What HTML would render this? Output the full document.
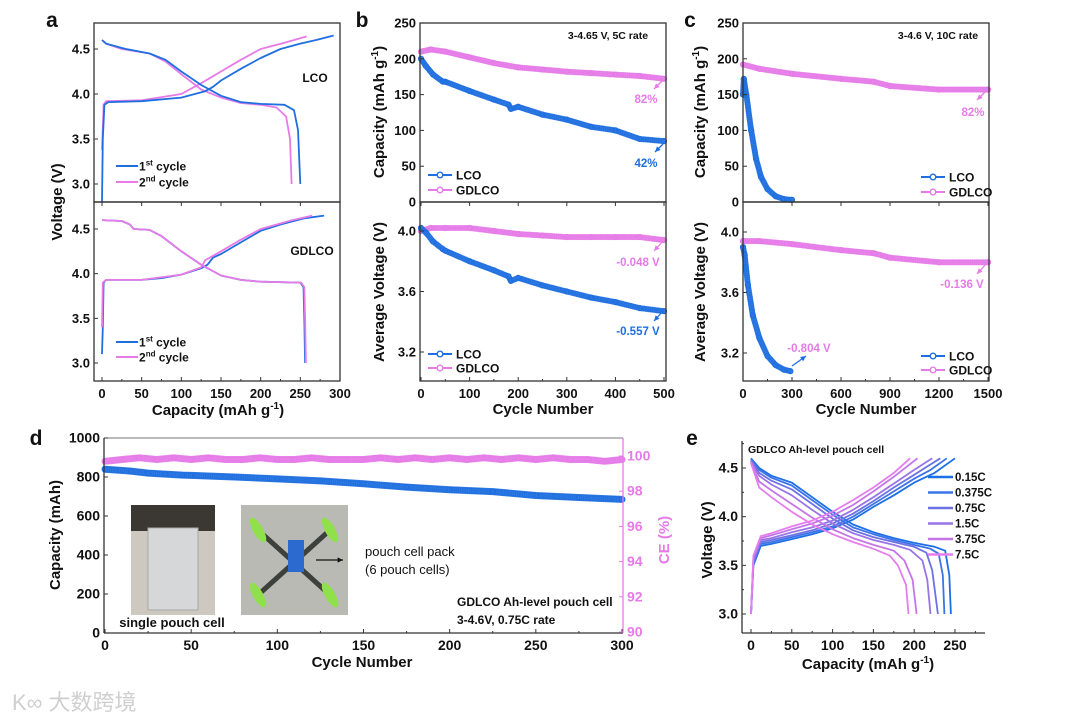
<!DOCTYPE html>
<html><head><meta charset="utf-8"><style>
html,body{margin:0;padding:0;background:#fff}
svg{display:block;font-family:"Liberation Sans",Arial,sans-serif;font-weight:bold}
</style></head><body>
<svg id="fig" width="1080" height="722" viewBox="0 0 1080 722" xmlns="http://www.w3.org/2000/svg"></svg>
<script>
// ---------- DATA ----------
const aLco1Charge=[[0,2.8],[1,3.5],[3,3.88],[8,3.91],[50,3.92],[100,3.96],[130,4.03],[140,4.08],[150,4.15],[175,4.28],[200,4.40],[225,4.50],[250,4.56],[270,4.60],[292,4.65]];
const aLco1Dis=[[0,4.6],[5,4.56],[30,4.5],[60,4.45],[80,4.38],[100,4.25],[125,4.1],[150,3.98],[175,3.91],[200,3.89],[230,3.88],[242,3.82],[247,3.6],[250,3.0]];
const aLco2Charge=[[0,3.38],[2,3.88],[5,3.92],[50,3.93],[100,4.0],[125,4.12],[150,4.25],[175,4.38],[200,4.50],[230,4.57],[258,4.64]];
const aLco2Dis=[[0,4.6],[5,4.56],[25,4.5],[60,4.45],[80,4.36],[100,4.22],[125,4.05],[150,3.96],[175,3.9],[200,3.88],[220,3.85],[232,3.75],[237,3.5],[239,3.0]];
const aG1Charge=[[0,3.1],[1,3.4],[2,3.9],[5,3.93],[50,3.93],[75,3.95],[100,3.99],[125,4.06],[133,4.1],[140,4.18],[150,4.22],[175,4.35],[200,4.48],[225,4.55],[255,4.62],[280,4.65]];
const aG1Dis=[[0,4.6],[25,4.59],[35,4.55],[40,4.5],[60,4.49],[75,4.42],[100,4.25],[125,4.1],[150,3.98],[175,3.93],[200,3.91],[250,3.9],[254,3.85],[255,3.5],[256,3.0]];
const aG2Charge=[[0,3.4],[1,3.9],[5,3.93],[50,3.93],[100,3.99],[125,4.07],[130,4.15],[150,4.25],[175,4.38],[200,4.5],[240,4.6],[265,4.65]];
const aG2Dis=[[0,4.6],[25,4.59],[35,4.55],[40,4.5],[60,4.49],[75,4.42],[100,4.25],[125,4.1],[150,3.98],[175,3.93],[200,3.91],[251,3.9],[255,3.85],[256,3.5],[257,3.0]];
const bCycles=[0,10,25,45,50,100,150,180,185,200,250,300,350,400,450,500];
const bLcoCap=[200,190,178,168,168,155,143,136,130,133,122,115,105,100,88,85];
const bGCycles=[0,20,50,100,150,200,250,300,350,400,450,500];
const bGCap=[210,213,210,202,194,188,185,182,180,178,176,172];
const bLcoV=[4.02,3.99,3.93,3.88,3.87,3.80,3.74,3.70,3.67,3.69,3.64,3.60,3.56,3.53,3.49,3.47];
const bGV=[4.0,4.02,4.02,4.02,4.0,3.98,3.97,3.96,3.96,3.96,3.96,3.94];
const cLcoCycles=[0,5,20,50,80,110,150,200,250,300];
const cLcoCap=[150,172,150,100,60,35,18,8,4,3];
const cLcoVCycles=[0,10,30,60,100,150,200,250,290];
const cLcoV=[3.9,3.85,3.65,3.45,3.30,3.18,3.12,3.09,3.08];
const cGCycles=[0,100,300,600,800,900,1200,1500];
const cGCap=[192,186,179,172,168,162,157,157];
const cGV=[3.94,3.94,3.92,3.88,3.86,3.83,3.80,3.80];
const dCycles=[0,15,25,35,45,50,75,100,125,150,175,200,225,250,275,300];
const dCap=[840,830,820,815,810,808,800,790,780,765,748,735,725,705,695,685];
const dCeCycles=[0,10,20,30,40,50,60,70,80,90,100,110,120,130,140,150,160,170,180,190,200,210,220,230,240,250,260,270,280,290,300];
const dCe=[99.7,99.8,99.9,99.8,99.9,99.8,99.9,99.8,99.8,99.9,99.8,99.8,99.9,99.8,99.8,99.8,99.9,99.8,99.9,99.8,99.9,99.8,99.9,99.8,99.9,99.8,99.9,99.8,99.8,99.7,99.8];
const eRates=["0.15C","0.375C","0.75C","1.5C","3.75C","7.5C"];
const eCharge=[
 [[0,3.0],[3,3.5],[12,3.7],[25,3.72],[50,3.77],[75,3.82],[100,3.88],[125,3.97],[150,4.1],[175,4.22],[200,4.35],[225,4.45],[250,4.6]],
 [[0,3.0],[3,3.52],[12,3.72],[25,3.74],[50,3.79],[75,3.84],[100,3.9],[125,4.0],[150,4.13],[175,4.26],[200,4.39],[220,4.48],[240,4.6]],
 [[0,3.0],[3,3.54],[12,3.74],[25,3.76],[50,3.81],[75,3.86],[100,3.93],[125,4.03],[150,4.16],[175,4.3],[200,4.43],[215,4.51],[232,4.6]],
 [[0,3.0],[3,3.56],[12,3.76],[25,3.78],[50,3.84],[75,3.89],[100,3.96],[125,4.07],[150,4.2],[175,4.34],[200,4.48],[222,4.6]],
 [[0,3.0],[3,3.58],[12,3.78],[25,3.81],[50,3.87],[75,3.93],[100,4.01],[125,4.12],[150,4.26],[175,4.41],[204,4.6]],
 [[0,3.0],[3,3.6],[12,3.8],[25,3.83],[50,3.9],[75,3.96],[100,4.05],[125,4.17],[150,4.3],[175,4.45],[195,4.6]]];
const eDis=[
 [[0,4.6],[10,4.5],[25,4.42],[50,4.35],[75,4.2],[100,4.05],[125,3.92],[150,3.84],[175,3.78],[200,3.73],[225,3.69],[238,3.65],[243,3.4],[245,3.0]],
 [[0,4.59],[10,4.48],[25,4.4],[50,4.32],[75,4.17],[100,4.02],[125,3.89],[150,3.82],[175,3.76],[200,3.71],[220,3.67],[230,3.62],[235,3.4],[237,3.0]],
 [[0,4.58],[10,4.45],[25,4.37],[50,4.28],[75,4.13],[100,3.98],[125,3.86],[150,3.79],[175,3.74],[200,3.69],[215,3.63],[222,3.45],[229,3.0]],
 [[0,4.57],[10,4.42],[25,4.33],[50,4.22],[75,4.07],[100,3.93],[125,3.83],[150,3.76],[175,3.71],[195,3.66],[210,3.55],[216,3.35],[220,3.0]],
 [[0,4.56],[10,4.36],[25,4.27],[50,4.13],[75,3.99],[100,3.87],[125,3.78],[150,3.71],[175,3.65],[188,3.55],[198,3.35],[203,3.0]],
 [[0,4.55],[10,4.3],[25,4.2],[50,4.05],[75,3.92],[100,3.82],[125,3.74],[150,3.67],[170,3.6],[180,3.5],[190,3.3],[193,3.0]]];
const eColors=["#1d6fe6","#3d73e8","#6c72e4","#9a74e6","#c675e8","#e57ded"];

// ---------- HELPERS ----------
const NS="http://www.w3.org/2000/svg";
const svg=document.getElementById('fig');
function el(tag,attrs,parent,text){const e=document.createElementNS(NS,tag);for(const k in attrs)e.setAttribute(k,attrs[k]);if(text!==undefined)e.textContent=text;(parent||svg).appendChild(e);return e;}
function scale(d0,d1,r0,r1){return v=>r0+(v-d0)*(r1-r0)/(d1-d0);}
const BLUE="#1f6fe0",PINK="#e67be8";
function txt(x,y,s,opt,name){const t=el('text',Object.assign({x:x,y:y,'font-size':13,fill:'#111','text-anchor':'middle'},opt||{}),svg,s);
 
 return t;}
function frame(x0,y0,x1,y1,name){const r=el('rect',{x:x0,y:y0,width:x1-x0,height:y1-y0,fill:'none',stroke:'#333','stroke-width':1.3});
 
 }
function xTicks(sx,ticks,y,minor,labels,name,fs){ticks.forEach((t,i)=>{el('line',{x1:sx(t),x2:sx(t),y1:y,y2:y-4,stroke:'#333'});if(labels)txt(sx(t),y+17,String(labels[i]),{'font-size':fs||13},name);});
 (minor||[]).forEach(t=>el('line',{x1:sx(t),x2:sx(t),y1:y,y2:y-2,stroke:'#333'}));}
function yTicks(sy,ticks,x,labels,name,color,right,fs){ticks.forEach((t,i)=>{el('line',{x1:x,x2:right?x-4:x+4,y1:sy(t),y2:sy(t),stroke:color||'#333'});if(labels)txt(right?x+4:x-4,sy(t)+4.5,labels[i],{'text-anchor':right?'start':'end',fill:color||'#111','font-size':fs||13},name);});}
function line(pts,sx,sy,color,w,name){const p=el('polyline',{points:pts.map(q=>sx(q[0]).toFixed(1)+','+sy(q[1]).toFixed(1)).join(' '),fill:'none',stroke:color,'stroke-width':w||1.6,'stroke-linejoin':'round'});
 
 return p;}
function zip(xs,ys){return xs.map((x,i)=>[x,ys[i]]);}
function markSeries(xs,ys,sx,sy,color,name,w){const g=el('g',{});
 
 
 const pts=zip(xs,ys);
 const pl=el('polyline',{points:pts.map(q=>sx(q[0]).toFixed(1)+','+sy(q[1]).toFixed(1)).join(' '),fill:'none',stroke:color,'stroke-width':w||5,'stroke-linejoin':'round','stroke-linecap':'round',opacity:0.9},g);
 // dense marker glyphs along the drawn line (visual style only)
 const L=pl.getTotalLength();
 for(let s=0;s<=L;s+=2.2){const p=pl.getPointAtLength(s);
  el('circle',{cx:p.x.toFixed(1),cy:p.y.toFixed(1),r:2.6,fill:'none',stroke:color,'stroke-width':0.9,opacity:0.8},g);}
 pts.forEach(q=>{const c=el('circle',{cx:sx(q[0]),cy:sy(q[1]),r:2.6,fill:'none',stroke:color,'stroke-width':1},g);
  
  });
 return g;}
function legendLine(x,y,color,label,marker,name){el('line',{x1:x,x2:x+24,y1:y,y2:y,stroke:color,'stroke-width':2});
 if(marker)el('circle',{cx:x+12,cy:y,r:2.8,fill:'#fff',stroke:color,'stroke-width':1.4});
 return txt(x+28,y+4.5,'',{'text-anchor':'start','font-size':12},name);}
function rotTitle(x,y,s,name,color){const t=el('text',{x:0,y:0,transform:`translate(${x},${y}) rotate(-90)`,'font-size':15,'text-anchor':'middle',fill:color||'#111'},svg,s);
 
 return t;}
function arrow(x1,y1,x2,y2,color){el('line',{x1:x1,y1:y1,x2:x2,y2:y2,stroke:color,'stroke-width':1.3});
 const a=Math.atan2(y2-y1,x2-x1),L=6;
 el('polygon',{points:`${x2},${y2} ${x2-L*Math.cos(a-0.45)},${y2-L*Math.sin(a-0.45)} ${x2-L*Math.cos(a+0.45)},${y2-L*Math.sin(a+0.45)}`,fill:color});}

[['a',52,27],['b',362,27],['c',690,27],['d',36,445],['e',692,445]].forEach(p=>txt(p[1],p[2],p[0],{'font-size':21},'panel-label-'+p[0]));

// ---------- PANEL A ----------
{const X0=94,X1=340,T=23,M=202,B=381;
 const sx=scale(0,300,102,340);
 const syU=scale(3.0,4.5,184,49), syL=scale(3.0,4.5,363,229);
 const cl=el('clipPath',{id:'clipA1'});el('rect',{x:X0,y:T,width:X1-X0,height:M-T},cl);
 const cl2=el('clipPath',{id:'clipA2'});el('rect',{x:X0,y:M,width:X1-X0,height:B-M},cl2);
 const gU=el('g',{'clip-path':'url(#clipA1)'}); const gL=el('g',{'clip-path':'url(#clipA2)'});
 [[aLco2Charge,PINK,'a-lco-2nd-charge'],[aLco2Dis,PINK,'a-lco-2nd-discharge'],[aLco1Charge,BLUE,'a-lco-1st-charge'],[aLco1Dis,BLUE,'a-lco-1st-discharge']].forEach(s=>gU.appendChild(line(s[0],sx,syU,s[1],1.8,s[2])));
 [[aG1Charge,BLUE,'a-gdlco-1st-charge'],[aG1Dis,BLUE,'a-gdlco-1st-discharge'],[aG2Charge,PINK,'a-gdlco-2nd-charge'],[aG2Dis,PINK,'a-gdlco-2nd-discharge']].forEach(s=>gL.appendChild(line(s[0],sx,syL,s[1],1.8,s[2])));
 frame(X0,T,X1,M,'panel-a-lco-frame');frame(X0,M,X1,B,'panel-a-gdlco-frame');
 xTicks(sx,[0,50,100,150,200,250,300],B,[25,75,125,175,225,275],[0,50,100,150,200,250,300],'a-x-tick');
 [0,50,100,150,200,250,300].forEach(t=>el('line',{x1:sx(t),x2:sx(t),y1:M,y2:M+4,stroke:'#333'}));
 yTicks(syU,[3.0,3.5,4.0,4.5],X0,['3.0','3.5','4.0','4.5'],'a-y-tick');
 yTicks(syL,[3.0,3.5,4.0,4.5],X0,['3.0','3.5','4.0','4.5'],'a-y-tick');
 txt(315,82,'LCO',{'font-size':12},'a-lco-label');txt(312,255,'GDLCO',{'font-size':12},'a-gdlco-label');
 [[166,BLUE,'st','a-legend-1st'],[182,PINK,'nd','a-legend-2nd']].forEach((l,i)=>{el('line',{x1:116,x2:138,y1:l[0],y2:l[0],stroke:l[1],'stroke-width':2});
  const t=txt(139,l[0]+4.5,'',{'text-anchor':'start','font-size':12},l[3]);t.innerHTML=(i+1)+'<tspan font-size="8" dy="-5">'+l[2]+'</tspan><tspan dy="5"> cycle</tspan>';});
 [[342,BLUE,'st','a-legend-1st-lower'],[357,PINK,'nd','a-legend-2nd-lower']].forEach((l,i)=>{el('line',{x1:116,x2:138,y1:l[0],y2:l[0],stroke:l[1],'stroke-width':2});
  const t=txt(139,l[0]+4.5,'',{'text-anchor':'start','font-size':12},l[3]);t.innerHTML=(i+1)+'<tspan font-size="8" dy="-5">'+l[2]+'</tspan><tspan dy="5"> cycle</tspan>';});
 rotTitle(62,202,'Voltage (V)','a-y-title');
 const t=txt(218,415,'',{'font-size':15},'a-x-title');t.innerHTML='Capacity (mAh g<tspan font-size="10" dy="-6">-1</tspan><tspan dy="6">)</tspan>';
}

// ---------- PANEL B ----------
{const X0=420,X1=666,T=23,M=202,B=381;
 const sx=scale(0,500,421,664);
 const syU=scale(0,250,202,23), syL=scale(3.2,4.0,352,231);
 markSeries(bGCycles,bGCap,sx,syU,PINK,'b-gdlco-capacity');
 markSeries(bCycles,bLcoCap,sx,syU,BLUE,'b-lco-capacity');
 markSeries(bGCycles,bGV,sx,syL,PINK,'b-gdlco-voltage');
 markSeries(bCycles,bLcoV,sx,syL,BLUE,'b-lco-voltage');
 frame(X0,T,X1,M,'panel-b-upper-frame');frame(X0,M,X1,B,'panel-b-lower-frame');
 xTicks(sx,[0,100,200,300,400,500],B,[50,150,250,350,450],[0,100,200,300,400,500],'b-x-tick');
 [0,100,200,300,400,500].forEach(t=>el('line',{x1:sx(t),x2:sx(t),y1:M,y2:M+4,stroke:'#333'}));
 yTicks(syU,[0,50,100,150,200,250],X0,['0','50','100','150','200','250'],'b-y-tick');
 yTicks(syL,[3.2,3.6,4.0],X0,['3.2','3.6','4.0'],'b-y-tick');
 txt(608,39,'3-4.65 V, 5C rate',{'font-size':10.5},'b-condition');
 arrow(663,80,654,89,PINK);txt(646,103,'82%',{'font-size':11.5,fill:PINK},'b-gdlco-retention');
 arrow(663,144,655,152,BLUE);txt(646,167,'42%',{'font-size':11.5,fill:BLUE},'b-lco-retention');
 arrow(663,241,654,251,PINK);txt(638,266,'-0.048 V',{'font-size':11.5,fill:PINK},'b-gdlco-voltage-drop');
 arrow(663,311,654,321,BLUE);txt(638,335,'-0.557 V',{'font-size':11.5,fill:BLUE},'b-lco-voltage-drop');
 [[175,BLUE,'LCO'],[190,PINK,'GDLCO']].forEach(l=>{legendLine(428,l[0],l[1],'',true,'b-legend-upper').textContent=l[2];});
 [[354,BLUE,'LCO'],[368,PINK,'GDLCO']].forEach(l=>{legendLine(428,l[0],l[1],'',true,'b-legend-lower').textContent=l[2];});
 const t=rotTitle(384,112,'','b-y-title-capacity');t.innerHTML='Capacity (mAh g<tspan font-size="10" dy="-6">-1</tspan><tspan dy="6">)</tspan>';
 rotTitle(384,292,'Average Voltage (V)','b-y-title-voltage');
 txt(543,414,'Cycle Number',{'font-size':15},'b-x-title');
}

// ---------- PANEL C ----------
{const X0=743,X1=989,T=23,M=202,B=381;
 const sx=scale(0,1500,743,988);
 const syU=scale(0,250,202,23), syL=scale(3.2,4.0,353,232);
 markSeries(cGCycles,cGCap,sx,syU,PINK,'c-gdlco-capacity');
 markSeries(cLcoCycles,cLcoCap,sx,syU,BLUE,'c-lco-capacity');
 markSeries(cGCycles,cGV,sx,syL,PINK,'c-gdlco-voltage');
 markSeries(cLcoVCycles,cLcoV,sx,syL,BLUE,'c-lco-voltage');
 frame(X0,T,X1,M,'panel-c-upper-frame');frame(X0,M,X1,B,'panel-c-lower-frame');
 xTicks(sx,[0,300,600,900,1200,1500],B,[150,450,750,1050,1350],[0,300,600,900,1200,1500],'c-x-tick');
 [0,300,600,900,1200,1500].forEach(t=>el('line',{x1:sx(t),x2:sx(t),y1:M,y2:M+4,stroke:'#333'}));
 yTicks(syU,[0,50,100,150,200,250],X0,['0','50','100','150','200','250'],'c-y-tick');
 yTicks(syL,[3.2,3.6,4.0],X0,['3.2','3.6','4.0'],'c-y-tick');
 txt(938,39,'3-4.6 V, 10C rate',{'font-size':10.5},'c-condition');
 arrow(986,91,977,100,PINK);txt(973,116,'82%',{'font-size':11.5,fill:PINK},'c-gdlco-retention');
 arrow(986,264,977,274,PINK);txt(962,288,'-0.136 V',{'font-size':11.5,fill:PINK},'c-gdlco-voltage-drop');
 arrow(792,366,806,356,BLUE);txt(809,352,'-0.804 V',{'font-size':11.5,fill:PINK},'c-lco-voltage-drop');
 [[177,BLUE,'LCO'],[192,PINK,'GDLCO']].forEach(l=>{legendLine(921,l[0],l[1],'',true,'c-legend-upper').textContent=l[2];});
 [[356,BLUE,'LCO'],[370,PINK,'GDLCO']].forEach(l=>{legendLine(921,l[0],l[1],'',true,'c-legend-lower').textContent=l[2];});
 const t=rotTitle(705,112,'','c-y-title-capacity');t.innerHTML='Capacity (mAh g<tspan font-size="10" dy="-6">-1</tspan><tspan dy="6">)</tspan>';
 rotTitle(705,292,'Average Voltage (V)','c-y-title-voltage');
 txt(866,414,'Cycle Number',{'font-size':15},'c-x-title');
}

// ---------- PANEL D ----------
{const X0=104,X1=623,T=438,B=633;
 const sx=scale(0,300,105,622);
 const sy=scale(0,1000,633,438), sy2=scale(90,100,632,456);
 markSeries(dCeCycles,dCe,sx,sy2,PINK,'d-ce-series',7);
 markSeries(dCycles,dCap,sx,sy,BLUE,'d-capacity-series',7);
 el('line',{x1:X0,x2:X1,y1:T,y2:T,stroke:'#777'});
 el('line',{x1:X0,x2:X0,y1:T,y2:B,stroke:'#333','stroke-width':1.3});
 el('line',{x1:X0,x2:X1,y1:B,y2:B,stroke:'#333','stroke-width':1.3});
 el('line',{x1:X1,x2:X1,y1:T,y2:B,stroke:PINK,'stroke-width':1.3});
 xTicks(sx,[0,50,100,150,200,250,300],B,[25,75,125,175,225,275],[0,50,100,150,200,250,300],'d-x-tick',14);
 yTicks(sy,[0,200,400,600,800,1000],X0,['0','200','400','600','800','1000'],'d-y-tick',null,false,14);
 yTicks(sy2,[90,92,94,96,98,100],X1,['90','92','94','96','98','100'],'d-ce-tick',PINK,true,14);
 const p1=el('g',{});
 el('rect',{x:131,y:505,width:84,height:110,fill:'#cdc8c0'},p1);
 el('rect',{x:131,y:505,width:84,height:26,fill:'#3b3733'},p1);
 el('rect',{x:148,y:528,width:50,height:82,fill:'#d6d7d9',stroke:'#a8a8a8'},p1);
 const p2=el('g',{});
 el('rect',{x:241,y:505,width:107,height:110,fill:'#b9bab4'},p2);
 el('path',{d:'M258 530 L330 595 M330 530 L258 595',stroke:'#3e403c','stroke-width':5},p2);
 [[258,530],[330,530],[258,595],[330,595]].forEach(c=>el('ellipse',{cx:c[0],cy:c[1],rx:14,ry:5,fill:'#8fe04a',transform:`rotate(60 ${c[0]} ${c[1]})`},p2));
 el('rect',{x:288,y:540,width:16,height:32,fill:'#2d6ad0'},p2);
 arrow(316,560,343,560,'#111');
 txt(365,556,'pouch cell pack',{'text-anchor':'start','font-size':13,'font-weight':'normal'},'d-pack-label');
 txt(365,574,'(6 pouch cells)',{'text-anchor':'start','font-size':13,'font-weight':'normal'},'d-pack-count');
 txt(172,627,'single pouch cell',{'font-size':13},'d-single-cell-label');
 txt(457,606,'GDLCO Ah-level pouch cell',{'text-anchor':'start','font-size':12},'d-cell-title');
 txt(457,624,'3-4.6V, 0.75C rate',{'text-anchor':'start','font-size':12},'d-cell-condition');
 rotTitle(60,535,'Capacity (mAh)','d-y-title');
 rotTitle(669,540,'CE (%)','d-y2-title',PINK);
 txt(362,667,'Cycle Number',{'font-size':15},'d-x-title');
}

// ---------- PANEL E ----------
{const X0=742,X1=985,T=441,B=633;
 const sx=scale(0,250,751,955), sy=scale(3.0,4.5,614,468);
 eRates.forEach((r,i)=>{line(eCharge[i],sx,sy,eColors[i],1.8,'e-charge-'+r);line(eDis[i],sx,sy,eColors[i],1.8,'e-discharge-'+r);});
 el('line',{x1:X0,x2:X0,y1:T,y2:B,stroke:'#333','stroke-width':1.3});
 el('line',{x1:X0,x2:X1,y1:B,y2:B,stroke:'#333','stroke-width':1.3});
 xTicks(sx,[0,50,100,150,200,250],B,[25,75,125,175,225,275],[0,50,100,150,200,250],'e-x-tick',14);
 yTicks(sy,[3.0,3.5,4.0,4.5],X0,['3.0','3.5','4.0','4.5'],'e-y-tick',null,false,14);
 [3.25,3.75,4.25,4.75].forEach(v=>el('line',{x1:X0,x2:X0+2,y1:sy(v),y2:sy(v),stroke:'#333'}));
 txt(748,453,'GDLCO Ah-level pouch cell',{'text-anchor':'start','font-size':10.5},'e-title');
 eRates.forEach((r,i)=>{const y=477+i*15.5;el('line',{x1:928,x2:953,y1:y,y2:y,stroke:eColors[i],'stroke-width':2.4});
  txt(955,y+4,r,{'text-anchor':'start','font-size':11.5},'e-legend-'+r);});
 rotTitle(712,540,'Voltage (V)','e-y-title');
 const t=txt(868,669,'',{'font-size':15},'e-x-title');t.innerHTML='Capacity (mAh g<tspan font-size="10" dy="-6">-1</tspan><tspan dy="6">)</tspan>';
}
txt(12,710,'',{'text-anchor':'start','font-size':22,fill:'#cfcfcf','font-family':'"Liberation Sans","Noto Sans CJK SC",sans-serif','font-weight':'normal'},'watermark').textContent='K∞ 大数跨境';
</script>
</body></html>
